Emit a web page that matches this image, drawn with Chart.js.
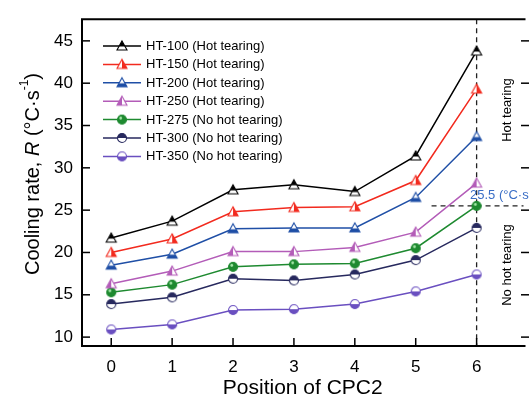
<!DOCTYPE html>
<html>
<head>
<meta charset="utf-8">
<script src="https://cdn.jsdelivr.net/npm/chart.js@4/dist/chart.umd.min.js"></script>
<style>
  html, body { margin: 0; padding: 0; background: #fff; overflow: hidden; }
  #wrap { width: 530px; height: 401px; }
</style>
</head>
<body>
<div id="wrap"><canvas id="myChart" width="530" height="401"></canvas></div>
<script>
// positions of CPC2
let positions = [0, 1, 2, 3, 4, 5, 6];

let seriesNames = ['HT-100 (Hot tearing)', 'HT-150 (Hot tearing)', 'HT-200 (Hot tearing)',
  'HT-250 (Hot tearing)', 'HT-275 (No hot tearing)', 'HT-300 (No hot tearing)', 'HT-350 (No hot tearing)'];

let ht100 = [21.7, 23.7, 27.4, 28.0, 27.2, 31.4, 43.8];
let ht150 = [20.0, 21.6, 24.8, 25.3, 25.4, 28.5, 39.3];
let ht200 = [18.5, 19.8, 22.8, 22.9, 22.9, 26.5, 33.7];
let ht250 = [16.3, 17.8, 20.1, 20.1, 20.6, 22.4, 28.2];
let ht275 = [15.3, 16.2, 18.3, 18.6, 18.7, 20.5, 25.5];
let ht300 = [13.9, 14.7, 16.9, 16.7, 17.4, 19.1, 22.9];
let ht350 = [10.9, 11.5, 13.2, 13.3, 13.9, 15.4, 17.4];

let yTicks = [10, 15, 20, 25, 30, 35, 40, 45];
let criticalRate = 25.5;

const COLORS = ['#000000', '#f22a1e', '#1f4fa6', '#b35cb8', '#1e8a30', '#27295e', '#6a4fc0'];
// marker: shape + which part is filled
const MARKERS = [
  ['tri', 'top'], ['tri', 'right'], ['tri', 'bottom'], ['tri', 'left'],
  ['circ', 'full'], ['circ', 'top'], ['circ', 'bottom']
];

function makeMarker(shape, part, color) {
  const c = document.createElement('canvas');
  c.width = 14; c.height = 14;
  const g = c.getContext('2d');
  const cx = 7, cy = 7;
  function path() {
    g.beginPath();
    if (shape === 'tri') {
      g.moveTo(cx, cy - 5); g.lineTo(cx + 5, cy + 4); g.lineTo(cx - 5, cy + 4); g.closePath();
    } else {
      g.arc(cx, cy, 4.5, 0, Math.PI * 2);
    }
  }
  path(); g.fillStyle = '#fff'; g.fill();
  g.save();
  g.beginPath();
  if (part === 'top') g.rect(0, 0, 14, shape === 'tri' ? cy + 0.5 : cy);
  else if (part === 'bottom') g.rect(0, shape === 'tri' ? cy + 0.5 : cy, 14, 14);
  else if (part === 'left') g.rect(0, 0, cx, 14);
  else if (part === 'right') g.rect(cx, 0, 14, 14);
  else g.rect(0, 0, 14, 14);
  g.clip();
  path(); g.fillStyle = color; g.fill();
  g.restore();
  if (part === 'full') {
    g.beginPath(); g.arc(cx - 1.3, cy - 1.5, 1.4, 0, Math.PI * 2);
    g.fillStyle = 'rgba(200,255,200,0.8)'; g.fill();
  }
  path(); g.strokeStyle = color; g.lineWidth = 1.1; g.stroke();
  return c;
}

const allSeries = [ht100, ht150, ht200, ht250, ht275, ht300, ht350];
const markerImgs = MARKERS.map((m, i) => makeMarker(m[0], m[1], COLORS[i]));

const datasets = allSeries.map((vals, i) => ({
  label: seriesNames[i],
  data: positions.map((p, k) => ({ x: p, y: vals[k] })),
  borderColor: COLORS[i],
  backgroundColor: COLORS[i],
  borderWidth: 1.5,
  pointStyle: markerImgs[i],
  pointRadius: 5,
  tension: 0
}));

const FONT = '"Liberation Sans", Arial, sans-serif';

const decorPlugin = {
  id: 'decor',
  beforeDatasetsDraw(chart) {
    const ctx = chart.ctx, a = chart.chartArea;
    const xs = chart.scales.x, ys = chart.scales.y;
    ctx.save();
    ctx.strokeStyle = '#222';
    ctx.lineWidth = 1.3;
    ctx.setLineDash([5, 4]);
    const x6 = xs.getPixelForValue(6);
    ctx.beginPath(); ctx.moveTo(x6, a.top); ctx.lineTo(x6, a.bottom); ctx.stroke();
    const yc = ys.getPixelForValue(criticalRate);
    ctx.beginPath(); ctx.moveTo(xs.getPixelForValue(5.26), yc); ctx.lineTo(a.right, yc); ctx.stroke();
    ctx.restore();
  },
  afterDraw(chart) {
    const ctx = chart.ctx, a = chart.chartArea;
    const xs = chart.scales.x, ys = chart.scales.y;
    ctx.save();
    // frame
    ctx.strokeStyle = '#000';
    ctx.lineWidth = 2;
    ctx.beginPath();
    ctx.moveTo(a.right + 2, a.top); ctx.lineTo(a.left, a.top);
    ctx.lineTo(a.left, a.bottom); ctx.lineTo(a.right + 2, a.bottom);
    ctx.stroke();
    // inward ticks
    ctx.lineWidth = 1.5;
    yTicks.forEach(v => {
      const y = ys.getPixelForValue(v);
      ctx.beginPath(); ctx.moveTo(a.left, y); ctx.lineTo(a.left + 8, y); ctx.stroke();
      ctx.beginPath(); ctx.moveTo(529, y); ctx.lineTo(521, y); ctx.stroke();
    });
    positions.forEach(p => {
      const x = xs.getPixelForValue(p);
      ctx.beginPath(); ctx.moveTo(x, a.bottom); ctx.lineTo(x, a.bottom - 8); ctx.stroke();
    });

    // legend
    ctx.font = '13px ' + FONT;
    ctx.textBaseline = 'middle';
    ctx.textAlign = 'left';
    seriesNames.forEach((name, i) => {
      const y = 46 + i * 18.4;
      ctx.strokeStyle = COLORS[i];
      ctx.lineWidth = 1.5;
      ctx.beginPath(); ctx.moveTo(103, y); ctx.lineTo(141, y); ctx.stroke();
      ctx.drawImage(markerImgs[i], 122 - 7, y - 7);
      ctx.fillStyle = '#000';
      ctx.fillText(name, 146, y + 0.5);
    });

    // critical rate label
    const yc = ys.getPixelForValue(criticalRate);
    ctx.fillStyle = '#3a6ec6';
    ctx.font = '13px ' + FONT;
    ctx.textBaseline = 'alphabetic';
    let tx = 470;
    ctx.fillText('25.5 (°C·s', tx, yc - 7);
    tx += ctx.measureText('25.5 (°C·s').width;
    ctx.font = '8px ' + FONT;
    ctx.fillText('-1', tx, yc - 12);
    tx += ctx.measureText('-1').width;
    ctx.font = '13px ' + FONT;
    ctx.fillText(')', tx, yc - 7);

    // region labels
    ctx.fillStyle = '#000';
    ctx.font = '13px ' + FONT;
    ctx.textAlign = 'center';
    ctx.textBaseline = 'middle';
    [['Hot tearing', 110], ['No hot tearing', 265]].forEach(([t, y]) => {
      ctx.save(); ctx.translate(507, y); ctx.rotate(-Math.PI / 2);
      ctx.fillText(t, 0, 0); ctx.restore();
    });

    // y axis title with italic R and superscript
    const parts = [
      ['Cooling rate, ', '20px ' + FONT, 0],
      ['R', 'italic 20px ' + FONT, 0],
      [' (°C·s', '20px ' + FONT, 0],
      ['-1', '12px ' + FONT, -8],
      [')', '20px ' + FONT, 0]
    ];
    let total = 0;
    parts.forEach(p => { ctx.font = p[1]; total += ctx.measureText(p[0]).width; });
    ctx.translate(33, 174);
    ctx.rotate(-Math.PI / 2);
    ctx.textAlign = 'left';
    ctx.textBaseline = 'middle';
    let px = -total / 2;
    parts.forEach(p => {
      ctx.font = p[1];
      ctx.fillText(p[0], px, p[2]);
      px += ctx.measureText(p[0]).width;
    });
    ctx.restore();
  }
};

let chartElement = document.getElementById('myChart').getContext('2d');

let myChart = new Chart(chartElement, {
  type: 'line',
  data: { datasets: datasets },
  options: {
    responsive: false,
    animation: false,
    layout: { padding: { top: 14, right: 0, left: 0, bottom: 0 } },
    plugins: { legend: { display: false }, tooltip: { enabled: false } },
    scales: {
      x: {
        type: 'linear',
        min: -0.48,
        max: 6.77,
        grid: { display: false, drawTicks: false },
        border: { display: false },
        ticks: {
          stepSize: 1,
          includeBounds: false,
          padding: 11,
          color: '#000',
          font: { size: 17, family: FONT }
        },
        title: {
          display: true,
          text: 'Position of CPC2',
          color: '#000',
          font: { size: 21, family: FONT },
          padding: { top: 6, bottom: 0 }
        },
        afterFit(scale) { scale.height = 55; }
      },
      y: {
        min: 8.95,
        max: 47.56,
        grid: { display: false, drawTicks: false },
        border: { display: false },
        ticks: {
          stepSize: 5,
          includeBounds: false,
          padding: 9,
          color: '#000',
          font: { size: 17, family: FONT }
        },
        afterFit(scale) { scale.width = 82; }
      }
    }
  },
  plugins: [decorPlugin]
});
</script>
</body>
</html>
